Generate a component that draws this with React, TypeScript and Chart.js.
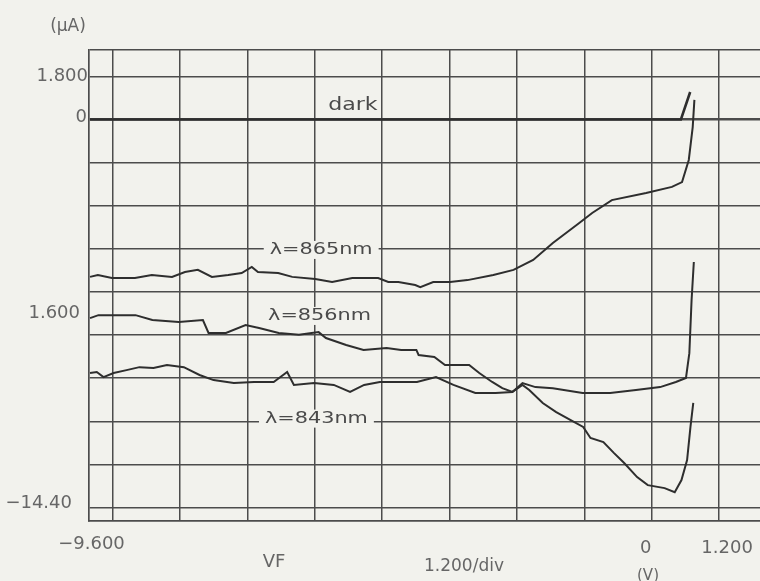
import { useEffect, useRef } from 'react';
import { Chart, registerables } from 'chart.js';

Chart.register(...registerables);

// ---- data (V, µA) ----
const vDark = [-10.0, 0.52, 0.685];
const iDark = [0, 0, 1.02];

const v865 = [-10.0, -9.86, -9.61, -9.20, -8.90, -8.54, -8.31, -8.08, -7.83, -7.54, -7.30, -7.12, -7.01, -6.65, -6.40, -5.99, -5.69, -5.33, -4.87, -4.69, -4.51, -4.21, -4.12, -3.89, -3.59, -3.28, -2.82, -2.46, -2.11, -1.76, -1.29, -1.06, -0.71, -0.10, 0.36, 0.54, 0.66, 0.73, 0.76];
const i865 = [-5.84, -5.77, -5.88, -5.88, -5.77, -5.84, -5.66, -5.58, -5.84, -5.77, -5.70, -5.47, -5.66, -5.70, -5.84, -5.92, -6.03, -5.88, -5.88, -6.03, -6.03, -6.14, -6.22, -6.03, -6.03, -5.96, -5.77, -5.58, -5.21, -4.58, -3.84, -3.47, -2.99, -2.73, -2.50, -2.32, -1.50, -0.28, 0.73];

const v856 = [-10.0, -9.85, -9.49, -9.19, -8.89, -8.42, -7.99, -7.89, -7.58, -7.23, -6.99, -6.64, -6.28, -5.93, -5.80, -5.44, -5.13, -4.72, -4.46, -4.19, -4.15, -3.87, -3.68, -3.25, -3.07, -2.84, -2.66, -2.48, -2.30, -2.18, -1.94, -1.70, -1.45, -1.22, -1.09, -0.86, -0.67, -0.49, -0.26, -0.07, 0.23, 0.41, 0.53, 0.63, 0.69, 0.74];
const i856 = [-7.37, -7.26, -7.26, -7.26, -7.44, -7.51, -7.44, -7.92, -7.92, -7.63, -7.74, -7.92, -7.99, -7.89, -8.11, -8.37, -8.55, -8.48, -8.55, -8.55, -8.74, -8.81, -9.11, -9.11, -9.41, -9.74, -9.97, -10.11, -9.85, -10.04, -10.52, -10.86, -11.15, -11.41, -11.82, -11.97, -12.38, -12.75, -13.27, -13.57, -13.68, -13.83, -13.38, -12.64, -11.41, -10.52];

const v843 = [-10.0, -9.88, -9.76, -9.58, -9.35, -9.12, -8.87, -8.63, -8.33, -8.05, -7.80, -7.44, -7.08, -6.73, -6.49, -6.37, -6.01, -5.66, -5.37, -5.12, -4.84, -4.53, -4.18, -3.84, -3.53, -3.14, -2.78, -2.48, -2.30, -2.07, -1.76, -1.23, -0.74, -0.28, 0.15, 0.43, 0.61, 0.67, 0.71, 0.75];
const i843 = [-9.41, -9.37, -9.56, -9.41, -9.30, -9.19, -9.22, -9.11, -9.19, -9.48, -9.67, -9.78, -9.74, -9.74, -9.37, -9.85, -9.78, -9.85, -10.11, -9.85, -9.74, -9.74, -9.74, -9.56, -9.85, -10.15, -10.15, -10.11, -9.78, -9.93, -9.97, -10.15, -10.15, -10.04, -9.93, -9.74, -9.59, -8.67, -6.70, -5.29];

// ---- axes ----
const xGridValues = [-9.6, -8.4, -7.2, -6.0, -4.8, -3.6, -2.4, -1.2, 0, 1.2];
const yGridValues = [-14.4, -12.8, -11.2, -9.6, -8.0, -6.4, -4.8, -3.2, -1.6, 0, 1.6];
const xLabelValues = [-9.6, 0, 1.2];
const xLabelTexts = ['\u22129.600', '0', '1.200'];
const yLabelValues = [1.6, 0, -7.2, -14.4];
const yLabelTexts = ['1.800', '0', '1.600', '\u221214.40'];

const X_MIN = -10.018;
const X_MAX = 1.928;
const Y_MIN = -14.9;
const Y_MAX = 2.58;

// ---- styling ----
const BG = '#f2f2ed';
const GRID = '#4c4c4c';
const TRACE = '#2e2e2e';
const AXIS_TEXT = '#666666';
const ANNO_TEXT = '#4a4a4a';
const FAMILY = '"DejaVu Sans", sans-serif';

const xLabelOffsets = [[-21, 40], [-6, 44], [8, 44]];
const yLabelOffsets = [[-1, 0], [-2, -2], [-9, 0], [-17, -4]];

const annotations = [
  { text: 'dark', x: -5.76, y: 0.5, size: 17, sx: 1.3, box: false },
  { text: '\u03bb=865nm', x: -6.8, y: -4.84, size: 16, sx: 1.3, box: true },
  { text: '\u03bb=856nm', x: -6.83, y: -7.29, size: 16, sx: 1.3, box: true },
  { text: '\u03bb=843nm', x: -6.885, y: -11.1, size: 16, sx: 1.3, box: true },
];

const freeTexts = [
  { text: '(\u00b5A)', px: 68, py: 27, size: 17 },
  { text: 'VF', px: 274, py: 562, size: 18 },
  { text: '1.200/div', px: 464, py: 567, size: 17 },
  { text: '(V)', px: 648, py: 576, size: 15 },
];

function drawText(ctx: CanvasRenderingContext2D, text: string, x: number, y: number, size: number, color: string, align: CanvasTextAlign, sx = 1) {
  ctx.save();
  ctx.font = `${size}px ${FAMILY}`;
  ctx.fillStyle = color;
  ctx.textBaseline = 'middle';
  ctx.textAlign = align;
  ctx.translate(x, y);
  ctx.scale(sx, 1);
  ctx.fillText(text, 0, 0);
  ctx.restore();
}

const textPlugin = {
  id: 'scopeTexts',
  beforeDraw(chart: any) {
    const ctx = chart.ctx;
    ctx.save();
    ctx.fillStyle = BG;
    ctx.fillRect(0, 0, chart.width, chart.height);
    ctx.restore();
  },
  afterDraw(chart: any) {
    const ctx: CanvasRenderingContext2D = chart.ctx;
    const xs = chart.scales.x;
    const ys = chart.scales.y;
    const area = chart.chartArea;
    xLabelValues.forEach((v, i) => {
      const [dx, dy] = xLabelOffsets[i];
      drawText(ctx, xLabelTexts[i], xs.getPixelForValue(v) + dx, area.bottom + dy - 17, 18, AXIS_TEXT, 'center');
    });
    yLabelValues.forEach((v, i) => {
      const [dx, dy] = yLabelOffsets[i];
      drawText(ctx, yLabelTexts[i], area.left + dx, ys.getPixelForValue(v) + dy, 18, AXIS_TEXT, 'right');
    });
    freeTexts.forEach((t) => drawText(ctx, t.text, t.px, t.py, t.size, AXIS_TEXT, 'center'));
    annotations.forEach((a) => {
      const px = xs.getPixelForValue(a.x);
      const py = ys.getPixelForValue(a.y);
      ctx.save();
      ctx.font = `${a.size}px ${FAMILY}`;
      const w = ctx.measureText(a.text).width * a.sx;
      ctx.restore();
      if (a.box) {
        ctx.save();
        ctx.fillStyle = BG;
        ctx.fillRect(px - 6, py - 9, w + 12, 18);
        ctx.restore();
      }
      drawText(ctx, a.text, px, py, a.size, ANNO_TEXT, 'left', a.sx);
    });
  },
};

function pts(xv: number[], yv: number[]) {
  return xv.map((x, i) => ({ x, y: yv[i] }));
}

export default function App() {
  const ref = useRef<HTMLCanvasElement>(null);
  useEffect(() => {
    const chart = new Chart(ref.current as HTMLCanvasElement, {
      type: 'line',
      data: {
        datasets: [
          { label: 'dark', data: pts(vDark, iDark), borderColor: TRACE, borderWidth: 2.6 },
          { label: '865nm', data: pts(v865, i865), borderColor: TRACE, borderWidth: 2 },
          { label: '856nm', data: pts(v856, i856), borderColor: TRACE, borderWidth: 2 },
          { label: '843nm', data: pts(v843, i843), borderColor: TRACE, borderWidth: 2 },
        ],
      },
      options: {
        responsive: false,
        devicePixelRatio: 1,
        animation: false,
        layout: { padding: { top: 50, left: 0, right: 0, bottom: 0 } },
        elements: { point: { radius: 0 }, line: { tension: 0 } },
        plugins: { legend: { display: false }, tooltip: { enabled: false } },
        scales: {
          x: {
            type: 'linear',
            min: X_MIN,
            max: X_MAX,
            ticks: { display: false },
            afterBuildTicks: (axis: any) => {
              axis.ticks = xGridValues.map((v) => ({ value: v }));
            },
            afterFit: (axis: any) => {
              axis.height = 60;
            },
            grid: { color: GRID, lineWidth: 1.5, drawTicks: false },
            border: { display: true, color: GRID, width: 1.7 },
          },
          y: {
            type: 'linear',
            min: Y_MIN,
            max: Y_MAX,
            ticks: { display: false },
            afterBuildTicks: (axis: any) => {
              axis.ticks = [...yGridValues, Y_MAX].map((v) => ({ value: v }));
            },
            afterFit: (axis: any) => {
              axis.width = 89;
            },
            grid: {
              color: GRID,
              lineWidth: (c: any) => (c.tick && c.tick.value === 0 ? 2.4 : 1.5),
              drawTicks: false,
            },
            border: { display: true, color: GRID, width: 1.7 },
          },
        },
      } as any,
      plugins: [textPlugin],
    });
    return () => chart.destroy();
  }, []);
  return (
    <div style={{ position: 'absolute', left: 0, top: 0, width: 760, height: 581 }}>
      <canvas ref={ref} width={760} height={581} style={{ display: 'block' }} />
    </div>
  );
}
